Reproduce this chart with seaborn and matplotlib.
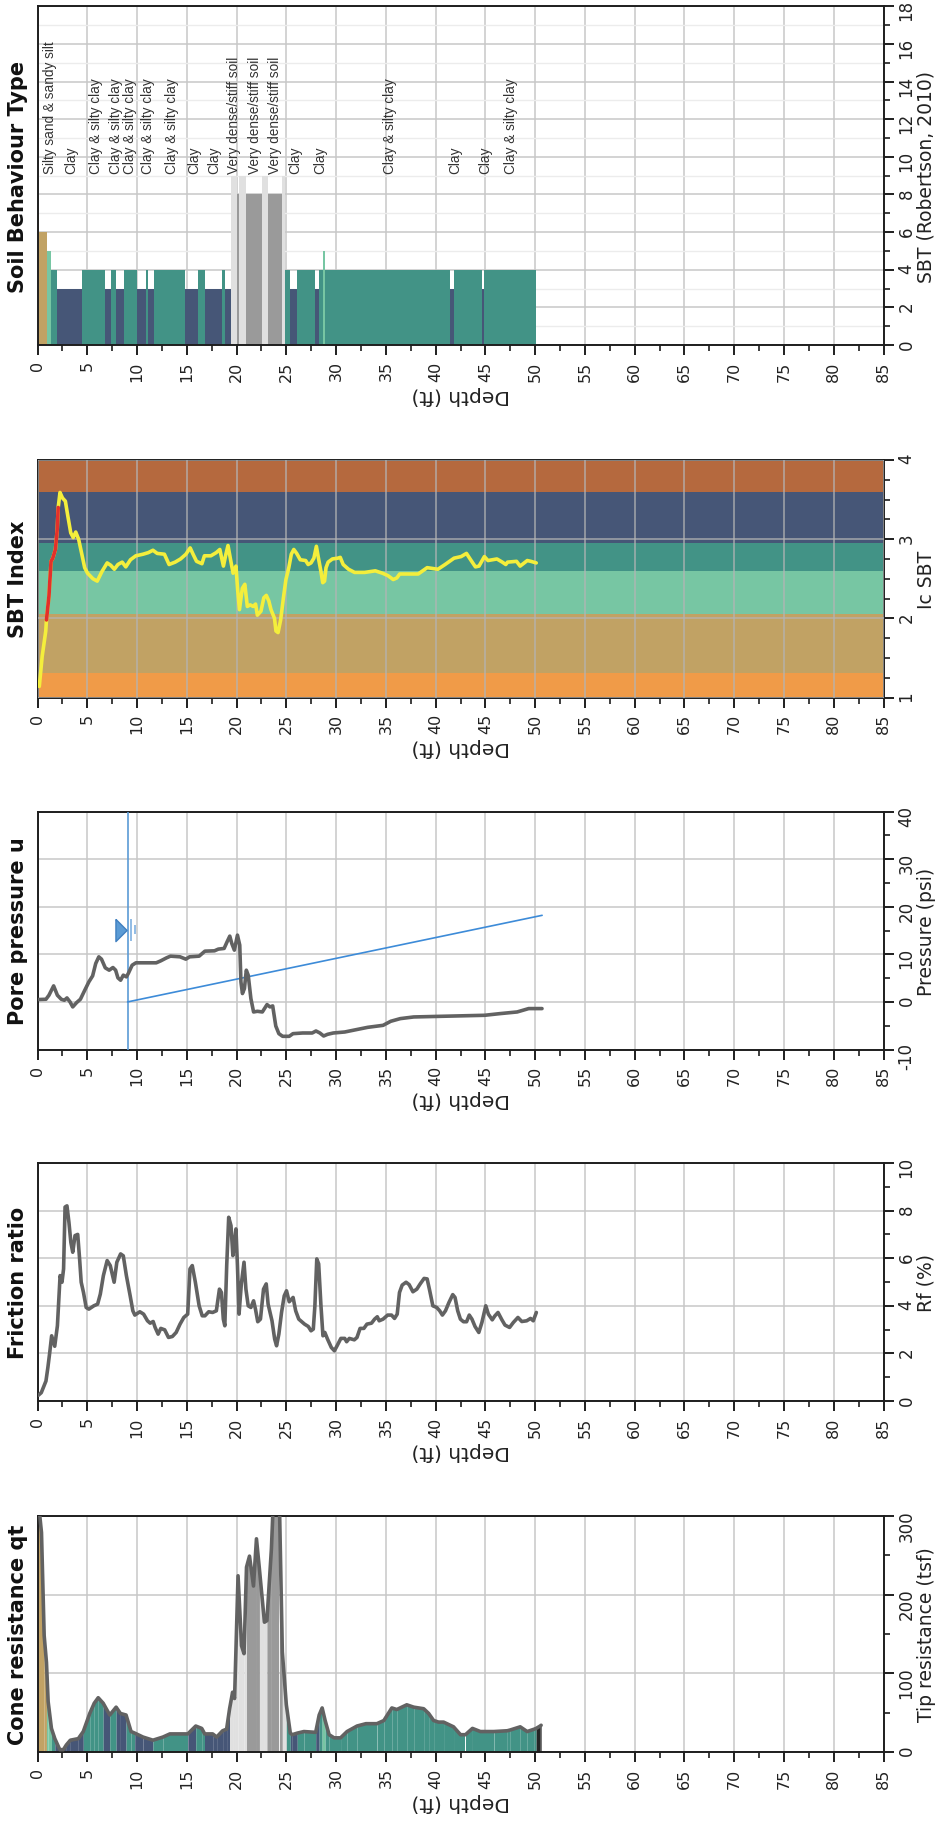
import numpy as np
import matplotlib
matplotlib.use("Agg")
import matplotlib.pyplot as plt
import seaborn as sns
from matplotlib.ticker import MultipleLocator

# ------------------------------------------------------------------ data
cone_depth = [0.0, 0.07, 0.4, 0.67, 0.9, 1.07, 1.4, 1.74, 2.24, 2.6, 2.9, 3.3, 4.1, 4.6,
              5.25, 5.7, 6.1, 6.6, 7.26, 7.9, 8.33, 8.9, 9.4, 9.77, 10.6, 11.6, 12.6, 13.3,
              15.1, 15.9, 16.5, 16.8, 17.6, 18.0, 18.6, 19.0, 19.3, 19.6, 19.8, 20.15, 20.5,
              20.75, 21.0, 21.3, 21.7, 22.0, 22.3, 22.8, 23.05, 23.5, 23.7, 24.3, 24.6, 25.0,
              25.4, 25.6, 26.1, 26.77, 27.95, 28.3, 28.6, 28.9, 29.3, 29.8, 30.45, 31.1, 32.1,
              33.0, 34.1, 34.8, 35.6, 36.1, 37.1, 37.8, 38.8, 39.3, 39.8, 40.3, 40.8, 41.8,
              42.5, 43.0, 43.7, 44.5, 45.85, 47.2, 47.5, 48.5, 49.2, 49.9, 50.1, 50.5, 50.6]
cone_qt = [330, 320, 279, 148, 114, 64, 30, 17, 3, 3, 9, 15, 17, 26,
           49, 62, 69, 62, 47, 57, 49, 47, 26, 24, 19, 15, 19, 23,
           23, 33, 30, 23, 23, 19, 27, 29, 55, 76, 68, 224, 135,
           125, 235, 249, 211, 271, 232, 165, 167, 258, 320, 320, 127, 60,
           24, 22, 24, 26, 25, 47, 56, 40, 22, 18, 18, 26, 33,
           36, 36, 40, 56, 54, 60, 57, 55, 49, 40, 38, 38, 32,
           22, 22, 30, 26, 26, 27, 28, 32, 26, 29, 30, 33, 34]

rf_depth = [0.08, 0.38, 0.85, 1.04, 1.23, 1.42, 1.73, 2.0, 2.27, 2.46, 2.62, 2.77, 2.96, 3.16,
            3.35, 3.54, 3.77, 4.04, 4.23, 4.39, 4.62, 4.89, 5.16, 5.66, 6.04, 6.31, 6.62, 7.0,
            7.31, 7.7, 7.97, 8.35, 8.62, 8.93, 9.31, 9.58, 9.78, 10.28, 10.66, 11.05, 11.32,
            11.62, 11.82, 12.12, 12.39, 12.78, 13.16, 13.55, 13.93, 14.32, 14.7, 15.09, 15.32,
            15.55, 15.86, 16.24, 16.55, 16.82, 17.2, 17.59, 17.97, 18.28, 18.48, 18.67, 18.82,
            19.01, 19.21, 19.44, 19.63, 19.78, 19.94, 20.09, 20.25, 20.48, 20.75, 20.94, 21.17,
            21.44, 21.71, 21.9, 22.13, 22.4, 22.71, 22.98, 23.17, 23.56, 23.83, 24.02, 24.25,
            24.52, 24.79, 25.02, 25.29, 25.68, 25.94, 26.25, 26.83, 27.21, 27.48, 27.71, 27.87,
            28.06, 28.25, 28.48, 28.68, 28.87, 29.14, 29.52, 29.83, 30.1, 30.48, 30.87, 31.06,
            31.33, 31.83, 32.1, 32.41, 32.79, 33.1, 33.56, 33.87, 34.14, 34.33, 34.72, 35.18,
            35.57, 35.87, 36.14, 36.37, 36.64, 37.03, 37.34, 37.72, 38.11, 38.45, 38.84, 39.15,
            39.41, 39.72, 40.11, 40.41, 40.68, 40.99, 41.34, 41.72, 41.95, 42.22, 42.49, 42.8,
            43.11, 43.38, 43.65, 43.96, 44.34, 44.65, 45.04, 45.3, 45.69, 45.96, 46.27, 46.66,
            46.97, 47.43, 47.81, 48.27, 48.66, 49.15, 49.54, 49.81, 50.12]
rf_value = [0.24, 0.35, 0.84, 1.4, 2.04, 2.74, 2.3, 3.16, 5.27, 4.99, 5.55, 8.15, 8.2, 7.5,
            6.67, 6.25, 6.95, 7.0, 5.97, 4.99, 4.56, 3.93, 3.86, 4.0, 4.07, 4.49, 5.27, 5.9,
            5.69, 4.99, 5.83, 6.18, 6.1, 5.27, 4.42, 3.79, 3.61, 3.75, 3.65, 3.37, 3.27,
            3.34, 3.09, 2.81, 3.05, 2.99, 2.67, 2.71, 2.88, 3.23, 3.51, 3.65, 5.55,
            5.69, 4.99, 4.0, 3.58, 3.58, 3.75, 3.72, 3.79, 4.7, 4.56, 3.44, 3.16,
            5.69, 7.72, 7.37, 6.11, 6.6, 7.23, 5.69, 3.65, 4.92, 5.83, 4.7, 4.0,
            3.93, 4.21, 3.86, 3.33, 3.44, 4.7, 4.92, 4.07, 3.37, 2.6, 2.32, 2.81,
            3.72, 4.42, 4.63, 4.17, 4.35, 3.79, 3.44, 3.23, 3.13, 2.95, 3.02, 4.0,
            5.97, 5.76, 4.0, 2.74, 2.88, 2.6, 2.25, 2.11, 2.32, 2.63, 2.63, 2.49,
            2.63, 2.57, 2.67, 3.05, 3.05, 3.23, 3.27, 3.44, 3.54, 3.37, 3.44, 3.61,
            3.61, 3.47, 3.65, 4.56, 4.87, 4.99, 4.89, 4.59, 4.7, 4.92, 5.15, 5.13,
            4.63, 4.0, 3.93, 3.79, 3.61, 3.79, 4.14, 4.47, 4.35, 3.79, 3.44, 3.33,
            3.33, 3.61, 3.44, 3.13, 2.88, 3.3, 4.0, 3.65, 3.41, 3.58, 3.72, 3.41,
            3.19, 3.09, 3.3, 3.51, 3.34, 3.37, 3.47, 3.37, 3.72]

u_depth = [0.08, 0.85, 1.15, 1.62, 2.0, 2.39, 2.7, 2.96, 3.27, 3.54, 3.93, 4.31, 4.7, 5.16,
           5.54, 5.85, 6.16, 6.43, 6.81, 7.2, 7.58, 7.85, 8.08, 8.35, 8.62, 8.93, 9.12, 9.51,
           9.89, 10.47, 11.93, 12.39, 12.97, 13.36, 14.32, 14.9, 15.28, 16.24, 16.82, 17.78,
           18.17, 18.75, 19.05, 19.32, 19.52, 19.78, 20.09, 20.32, 20.44, 20.59, 20.79, 20.98,
           21.17, 21.44, 21.71, 22.09, 22.59, 23.06, 23.36, 23.63, 23.94, 24.25, 24.63, 25.29,
           25.67, 26.64, 27.6, 27.98, 28.37, 28.75, 29.14, 29.72, 30.87, 32.02, 33.18, 34.72,
           35.49, 36.45, 37.8, 44.92, 46.46, 48.19, 49.35, 50.69]
u_value = [0.5, 0.56, 1.4, 3.37, 1.4, 0.56, 0.35, 0.84, 0.0, -1.05, -0.14, 0.56, 2.25, 4.21,
           5.48, 8.08, 9.48, 8.99, 7.16, 6.67, 7.23, 6.67, 5.06, 4.56, 5.62, 5.27, 5.97, 7.72,
           8.22, 8.22, 8.22, 8.64, 9.27, 9.62, 9.48, 8.99, 9.48, 9.62, 10.67, 10.74,
           11.1, 11.24, 12.64, 13.83, 12.29, 10.88, 14.04, 11.94, 4.21, 1.76, 2.81, 6.67,
           5.62, 0.7, -2.11, -1.97, -2.11, -0.56, -1.05, -0.84, -5.06, -6.67, -7.23, -7.23,
           -6.67, -6.53, -6.53, -6.11, -6.53, -7.16, -6.81, -6.53, -6.32, -5.83, -5.34, -4.92,
           -4.07, -3.51, -3.16, -2.81, -2.46, -2.11, -1.4, -1.4]
hydro_depth = [9.05, 50.7]
hydro_u = [0.0, 18.2]
water_table_depth = 9.05
wt_marker_depth = [8.35]
wt_marker_u = [15.2]
wt_tick_depth = [9.43, 9.78]
wt_tick_low = [12.9, 14.2]
wt_tick_high = [17.4, 16.1]

ic_depth = [0.18, 0.47, 0.83, 0.9, 1.15, 1.36, 1.54, 1.8, 1.98, 2.08, 2.26, 2.51, 2.8, 3.05,
            3.34, 3.59, 3.84, 4.13, 4.42, 4.74, 5.03, 5.57, 6.0, 6.47, 7.0, 7.36, 7.72, 8.08,
            8.51, 8.87, 9.34, 9.88, 10.6, 11.13, 11.6, 12.03, 12.75, 13.22, 13.83, 14.37,
            14.91, 15.34, 15.63, 15.98, 16.52, 16.77, 17.42, 17.96, 18.32, 18.68, 18.93, 19.14,
            19.4, 19.65, 19.94, 20.11, 20.29, 20.58, 20.83, 21.08, 21.37, 21.66, 21.91, 22.09,
            22.45, 22.74, 22.99, 23.24, 23.46, 23.81, 23.96, 24.17, 24.43, 24.71, 24.96, 25.25,
            25.5, 25.75, 26.04, 26.4, 26.94, 27.19, 27.48, 27.77, 28.02, 28.2, 28.48, 28.66,
            28.84, 28.99, 29.2, 29.63, 30.17, 30.42, 30.71, 31.25, 31.86, 32.87, 33.94, 34.66,
            35.2, 35.74, 36.1, 36.39, 37.18, 38.25, 39.15, 40.23, 40.95, 41.85, 42.56, 43.1,
            43.57, 44.0, 44.36, 44.9, 45.26, 46.16, 46.7, 47.05, 47.23, 48.13, 48.49, 49.21,
            49.57, 50.11]
ic_value = [1.14, 1.52, 1.84, 1.98, 2.28, 2.72, 2.76, 2.87, 3.12, 3.4, 3.59, 3.52, 3.48, 3.29,
            3.08, 3.02, 3.09, 3.0, 2.83, 2.64, 2.57, 2.5, 2.47, 2.59, 2.7, 2.67, 2.62, 2.68,
            2.71, 2.65, 2.74, 2.79, 2.81, 2.83, 2.86, 2.82, 2.81, 2.68, 2.71, 2.75,
            2.81, 2.89, 2.81, 2.72, 2.69, 2.79, 2.79, 2.83, 2.87, 2.66, 2.81, 2.92,
            2.74, 2.57, 2.66, 2.36, 2.11, 2.38, 2.43, 2.15, 2.17, 2.15, 2.18, 2.04,
            2.09, 2.26, 2.29, 2.22, 2.11, 2.0, 1.84, 1.82, 1.98, 2.26, 2.49, 2.64,
            2.81, 2.87, 2.82, 2.74, 2.73, 2.68, 2.7, 2.76, 2.91, 2.78, 2.59, 2.45,
            2.47, 2.64, 2.71, 2.75, 2.76, 2.77, 2.68, 2.62, 2.58, 2.58, 2.6, 2.57,
            2.54, 2.49, 2.51, 2.56, 2.56, 2.56, 2.64, 2.62, 2.68, 2.76, 2.78, 2.82,
            2.73, 2.65, 2.66, 2.78, 2.73, 2.75, 2.71, 2.68, 2.71, 2.72, 2.66, 2.73,
            2.72, 2.7]
ic_red_range = [0.9, 2.08]
ic_bounds = [1.0, 1.31, 2.05, 2.6, 2.95, 3.6, 4.0]
ic_band_zone = [7, 6, 5, 4, 3, 2]

sbt_start = [0.0, 0.2, 0.94, 1.34, 1.94, 4.48, 6.76, 7.4, 7.86, 8.7, 9.97, 10.87, 11.07, 11.67,
             14.85, 16.12, 16.79, 18.5, 18.8, 19.4, 20.07, 20.23, 20.97, 22.54, 23.18, 24.58,
             24.82, 25.38, 26.07, 27.91, 28.31, 28.64, 28.84, 41.49, 41.89, 44.7, 44.87]
sbt_end = [0.2, 0.94, 1.34, 1.94, 4.48, 6.76, 7.4, 7.86, 8.7, 9.97, 10.87, 11.07, 11.67, 14.85,
           16.12, 16.79, 18.5, 18.8, 19.4, 20.07, 20.23, 20.97, 22.54, 23.18, 24.58, 24.82,
           25.38, 26.07, 27.91, 28.31, 28.64, 28.84, 41.49, 41.89, 44.7, 44.87, 50.05]
sbt_zone = [7, 6, 5, 4, 3, 4, 3, 4, 3, 4, 3, 4, 3, 4,
            3, 4, 3, 4, 3, 9, 8, 9, 8, 9, 8, 9,
            4, 3, 4, 3, 4, 5, 4, 3, 4, 3, 4]

label_depth = [1.3, 3.35, 5.9, 7.9, 9.3, 11.1, 13.5, 15.7, 17.8, 19.7, 21.9, 23.9, 25.85,
               28.4, 35.4, 42.0, 45.0, 47.55]
label_text = ["Silty sand & sandy silt", "Clay", "Clay & silty clay", "Clay & silty clay",
              "Clay & silty clay", "Clay & silty clay", "Clay & silty clay", "Clay", "Clay",
              "Very dense/stiff soil", "Very dense/stiff soil", "Very dense/stiff soil",
              "Clay", "Clay", "Clay & silty clay", "Clay", "Clay", "Clay & silty clay"]

zone_colors = {0: "#252525", 2: "#b5693e", 3: "#465677", 4: "#429386", 5: "#77c6a3",
               6: "#c1a264", 7: "#f09b48", 8: "#9a9a9a", 9: "#e0e0e0"}

# ------------------------------------------------------------------ style
sns.set_theme(style="whitegrid")
plt.rcParams["font.family"] = ["DejaVu Sans"]
plt.rcParams["axes.unicode_minus"] = False

TXT = "#222222"
LINE_GREY = "#626262"
W, H = 938, 1831
fig = plt.figure(figsize=(W / 100, H / 100), dpi=100)
fig.patch.set_facecolor("white")

left, width = 37.5 / W, 846.0 / W


def make_ax(top_px, bottom_px):
    return fig.add_axes([left, 1 - bottom_px / H, width, (bottom_px - top_px) / H])


def style(ax, ylim, ymaj, ymin, ylabel, title):
    ax.set_facecolor("white")
    ax.set_xlim(0, 85)
    ax.set_ylim(*ylim)
    ax.xaxis.set_major_locator(MultipleLocator(5))
    ax.xaxis.set_minor_locator(MultipleLocator(2.5))
    ax.yaxis.set_major_locator(MultipleLocator(ymaj))
    ax.yaxis.set_minor_locator(MultipleLocator(ymin))
    ax.yaxis.tick_right()
    ax.yaxis.set_label_position("right")
    ax.tick_params(axis="both", which="both", direction="out", colors="#1e1e1e",
                   bottom=True, right=True, left=False, top=False)
    ax.tick_params(axis="both", which="major", length=7, width=1.4)
    ax.tick_params(axis="both", which="minor", length=4, width=1.2)
    ax.tick_params(axis="x", which="major", labelrotation=90, labelsize=11.5, pad=4,
                   labelcolor=TXT)
    ax.tick_params(axis="y", which="major", labelrotation=90, labelsize=12, pad=3,
                   labelcolor=TXT)
    for s in ax.spines.values():
        s.set_color("#1e1e1e")
        s.set_linewidth(1.4)
    ax.grid(True, which="major", color="#c8c8c8", linewidth=1.1)
    ax.grid(False, which="minor")
    ax.set_xlabel("Depth (ft)", rotation=180, fontsize=14.5, labelpad=3, color=TXT)
    ax.set_ylabel(ylabel, rotation=90, fontsize=13.5, labelpad=1, color=TXT)
    ax.text(-0.0225, 0.5, title, rotation=90, transform=ax.transAxes, ha="center",
            va="center", fontsize=15, fontweight="bold", color="#111111")


def zone_at(d):
    for s, e, z in zip(sbt_start, sbt_end, sbt_zone):
        if s <= d < e:
            return z
    return 0


# ---------------------------------------------------------- panel 5 : SBT
ax5 = make_ax(7.3, 346.0)
style(ax5, (0, 18), 2, 1, "SBT (Robertson, 2010)", "Soil Behaviour Type")
ax5.grid(True, which="minor", axis="y", color="#ececec", linewidth=1.0)
widths = np.array(sbt_end) - np.array(sbt_start)
ax5.bar(sbt_start, sbt_zone, width=widths, align="edge",
        color=[zone_colors[z] for z in sbt_zone], linewidth=0, zorder=2)
for d, t in zip(label_depth, label_text):
    ax5.text(d, 9.15, t, rotation=90, ha="center", va="bottom", fontsize=9.8,
             family=["Liberation Sans", "DejaVu Sans"], color="#333333", zorder=4)

# ---------------------------------------------------------- panel 4 : Ic
ax4 = make_ax(461.0, 698.5)
style(ax4, (1, 4), 1, 0.25, "Ic SBT", "SBT Index")
ax4.set_axisbelow(False)
ax4.grid(True, which="major", color="#b4b4b4", linewidth=1.1, alpha=0.85)
for lo, hi, z in zip(ic_bounds[:-1], ic_bounds[1:], ic_band_zone):
    ax4.axhspan(lo, hi, color=zone_colors[z], linewidth=0, zorder=0.5)
sns.lineplot(x=ic_depth, y=ic_value, ax=ax4, color="#f4ee3c", linewidth=2.6,
             estimator=None, sort=False, zorder=4)
ic_d = np.array(ic_depth)
ic_v = np.array(ic_value)
mask = (ic_d >= ic_red_range[0]) & (ic_d <= ic_red_range[1])
sns.lineplot(x=ic_d[mask], y=ic_v[mask], ax=ax4, color="#e3302b", linewidth=2.6,
             estimator=None, sort=False, zorder=5)

# ---------------------------------------------------------- panel 3 : u
ax3 = make_ax(812.6, 1050.5)
style(ax3, (-10, 40), 10, 5, "Pressure (psi)", "Pore pressure u")
ax3.axvline(water_table_depth, color="#5b9bd5", linewidth=1.2, zorder=3)
sns.lineplot(x=hydro_depth, y=hydro_u, ax=ax3, color="#3d8bd8", linewidth=1.2,
             estimator=None, sort=False, zorder=3)
sns.lineplot(x=u_depth, y=u_value, ax=ax3, color=LINE_GREY, linewidth=2.6,
             estimator=None, sort=False, zorder=4)
tri = [(-0.5, 1.0), (0.5, 0.0), (-0.5, -1.0), (-0.5, 1.0)]
ax3.plot(wt_marker_depth, wt_marker_u, linestyle="none", marker=tri, markersize=16,
         markerfacecolor="#5b9bd5", markeredgecolor="#3f7fc0", markeredgewidth=1, zorder=5)
ax3.vlines(wt_tick_depth, wt_tick_low, wt_tick_high, color="#7fb0e0", linewidth=1.2,
           zorder=5)

# ---------------------------------------------------------- panel 2 : Rf
ax2 = make_ax(1164.0, 1402.0)
style(ax2, (0, 10), 2, 1, "Rf (%)", "Friction ratio")
sns.lineplot(x=rf_depth, y=rf_value, ax=ax2, color=LINE_GREY, linewidth=2.6,
             estimator=None, sort=False, zorder=4)

# ---------------------------------------------------------- panel 1 : qt
ax1 = make_ax(1517.0, 1753.0)
style(ax1, (0, 300), 100, 50, "Tip resistance (tsf)", "Cone resistance qt")
for i in range(len(cone_depth) - 1):
    d0, d1 = cone_depth[i], cone_depth[i + 1]
    z = zone_at(0.5 * (d0 + d1))
    ax1.fill_between([d0, d1], [cone_qt[i], cone_qt[i + 1]], 0, color=zone_colors[z],
                     linewidth=0, zorder=2)
sns.lineplot(x=cone_depth, y=cone_qt, ax=ax1, color=LINE_GREY, linewidth=2.6,
             estimator=None, sort=False, zorder=4)

fig.savefig("out.png", dpi=100, facecolor="white")
